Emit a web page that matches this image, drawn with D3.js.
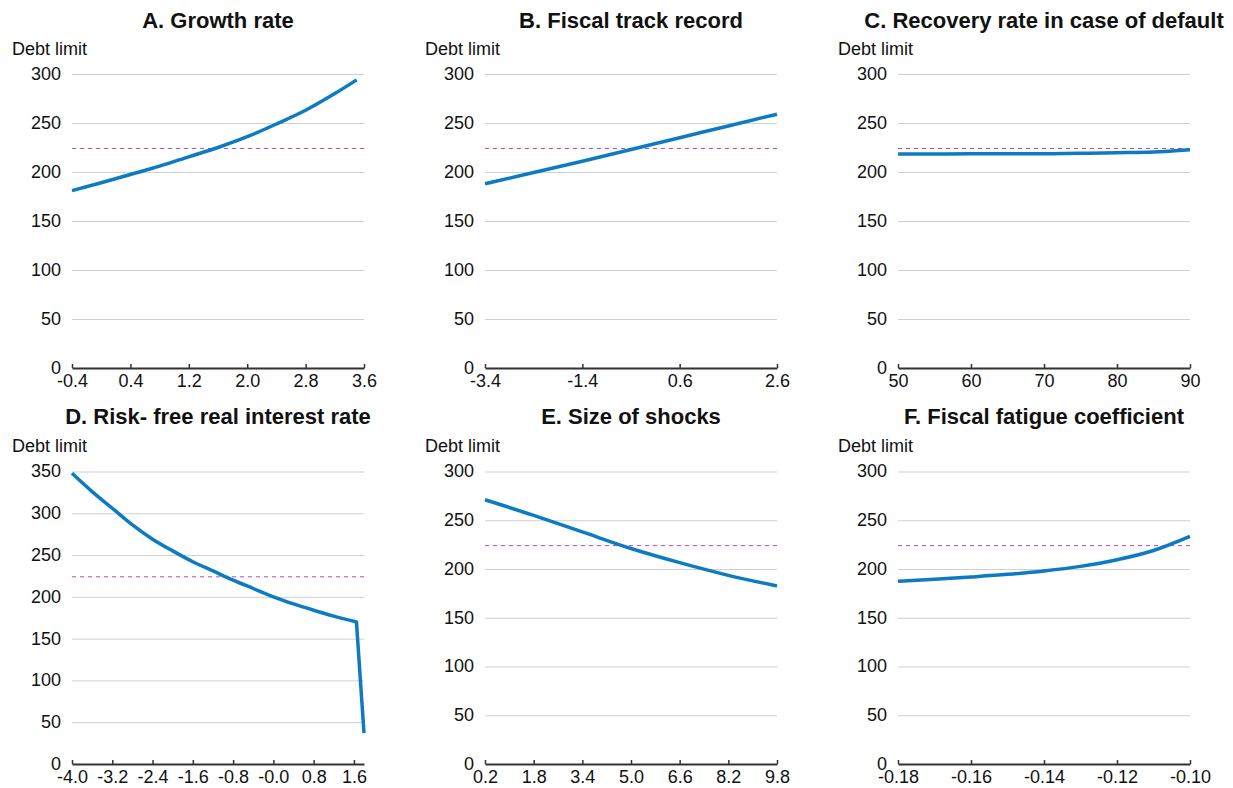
<!DOCTYPE html>
<html>
<head>
<meta charset="utf-8">
<script src="https://cdn.jsdelivr.net/npm/d3@7"></script>
<style>
  body { margin: 0; background: #fff; }
  text { font-family: "Liberation Sans", Arial, Helvetica, sans-serif; fill: #111; }
  .title { font-size: 22px; font-weight: bold; }
  .ylab { font-size: 18px; }
  .tick text { font-size: 18px; }
</style>
</head>
<body>
<div id="chart"></div>
<script>
// Panel titles
var titles = ["A. Growth rate", "B. Fiscal track record", "C. Recovery rate in case of default",
              "D. Risk- free real interest rate", "E. Size of shocks", "F. Fiscal fatigue coefficient"];

// Series values
var xA = [-0.4, 0.0, 0.4, 0.8, 1.2, 1.6, 2.0, 2.4, 2.8, 3.2, 3.5];
var yA = [181, 189, 197.5, 206, 215.5, 225, 236, 249, 263, 280, 294];

var xB = [-3.4, -2.4, -1.4, -0.4, 0.6, 1.6, 2.6];
var yB = [188, 199.5, 211, 223, 235, 247, 259];

var xC = [50, 55, 60, 65, 70, 75, 80, 85, 90];
var yC = [218.3, 218.3, 218.5, 218.6, 218.7, 219.1, 219.7, 220.5, 222.8];

var xD = [-4.0, -3.6, -3.2, -2.8, -2.4, -2.0, -1.6, -1.2, -0.8, -0.4, 0.0, 0.4, 0.8, 1.2, 1.65, 1.8];
var yD = [348, 326, 306, 286, 269, 255, 242, 231, 220, 210, 200, 191.5, 184, 177, 170, 37];

var xE = [0.2, 1.8, 3.4, 5.0, 6.6, 8.2, 9.8];
var yE = [271, 255, 238, 221, 206.5, 193.5, 182.6];

var xF = [-0.18, -0.17, -0.16, -0.15, -0.14, -0.13, -0.12, -0.11, -0.10];
var yF = [187.4, 189.4, 191.8, 194.5, 198, 202.7, 209.5, 219, 233.5];

// Tick labels
var ticksA = ["-0.4", "0.4", "1.2", "2.0", "2.8", "3.6"];
var ticksB = ["-3.4", "-1.4", "0.6", "2.6"];
var ticksC = ["50", "60", "70", "80", "90"];
var ticksD = ["-4.0", "-3.2", "-2.4", "-1.6", "-0.8", "-0.0", "0.8", "1.6"];
var ticksE = ["0.2", "1.8", "3.4", "5.0", "6.6", "8.2", "9.8"];
var ticksF = ["-0.18", "-0.16", "-0.14", "-0.12", "-0.10"];

var xDomains = [[-0.4, 3.6], [-3.4, 2.6], [50, 90], [-4.0, 1.8], [0.2, 9.8], [-0.18, -0.10]];
var yMax = [300, 300, 300, 350, 300, 300];
var benchmark = 224;

var panels = [
  {x: xA, y: yA, ticks: ticksA},
  {x: xB, y: yB, ticks: ticksB},
  {x: xC, y: yC, ticks: ticksC},
  {x: xD, y: yD, ticks: ticksD},
  {x: xE, y: yE, ticks: ticksE},
  {x: xF, y: yF, ticks: ticksF}
];

var W = 1233, H = 788;
var svg = d3.select("#chart").append("svg")
    .attr("width", W)
    .attr("height", H);

var lefts = [72, 485, 898];
var plotW = 292;
var rows = [{top: 74, bottom: 368, title: 28, ylab: 55},
            {top: 471.5, bottom: 764, title: 424, ylab: 452}];

panels.forEach(function(p, i) {
  var col = i % 3, row = rows[Math.floor(i / 3)];
  var left = lefts[col];

  var x = d3.scaleLinear().domain(xDomains[i]).range([0, plotW]);
  var y = d3.scaleLinear().domain([0, yMax[i]]).range([row.bottom - row.top, 0]);

  var g = svg.append("g")
      .attr("transform", "translate(" + left + "," + row.top + ")");

  // title and y label
  svg.append("text")
      .attr("class", "title")
      .attr("x", left + plotW / 2)
      .attr("y", row.title)
      .attr("text-anchor", "middle")
      .text(titles[i]);

  svg.append("text")
      .attr("class", "ylab")
      .attr("x", left - 60)
      .attr("y", row.ylab)
      .text("Debt limit");

  // y axis (gridlines, no domain line)
  var yAxis = g.append("g")
      .call(d3.axisLeft(y).ticks(yMax[i] / 50).tickSize(-plotW).tickPadding(11));
  yAxis.select(".domain").remove();
  yAxis.selectAll(".tick line")
      .attr("stroke", "#cfcfcf")
      .attr("stroke-width", 1);
  yAxis.selectAll(".tick text")
      .attr("dy", "0.3em");

  // benchmark dashed line
  g.append("line")
      .attr("x1", 0)
      .attr("x2", plotW)
      .attr("y1", y(benchmark))
      .attr("y2", y(benchmark))
      .attr("stroke", "#b24cc2")
      .attr("stroke-width", 1)
      .attr("stroke-dasharray", "4,4");

  // x axis with labelled ticks
  var tickVals = p.ticks.map(Number);
  var xAxis = g.append("g")
      .attr("transform", "translate(0," + (row.bottom - row.top) + ")")
      .call(d3.axisBottom(x)
        .tickValues(tickVals)
        .tickFormat(function(d, k) { return p.ticks[k]; })
        .tickSizeInner(-4)
        .tickSizeOuter(0)
        .tickPadding(5));
  xAxis.select(".domain")
      .attr("stroke", "#333")
      .attr("stroke-width", 2);
  xAxis.selectAll(".tick line")
      .attr("stroke", "#333")
      .attr("stroke-width", 1.5);
  xAxis.selectAll(".tick text")
      .attr("dy", "0.75em");

  // data line (panel D: smooth part, then straight drop)
  var pts = p.x.map(function(v, k) { return [v, p.y[k]]; });
  var smooth = i === 3 ? pts.slice(0, -1) : pts;
  var line = d3.line()
      .x(function(d) { return x(d[0]); })
      .y(function(d) { return y(d[1]); })
      .curve(d3.curveMonotoneX);
  var dPath = line(smooth);
  if (i === 3) {
    var last = pts[pts.length - 1];
    dPath += "L" + x(last[0]) + "," + y(last[1]);
  }

  g.append("path")
      .attr("fill", "none")
      .attr("stroke", "#0c7bc2")
      .attr("stroke-width", 3.5)
      .attr("stroke-linejoin", "round")
      .attr("d", dPath);
});
</script>
</body>
</html>
